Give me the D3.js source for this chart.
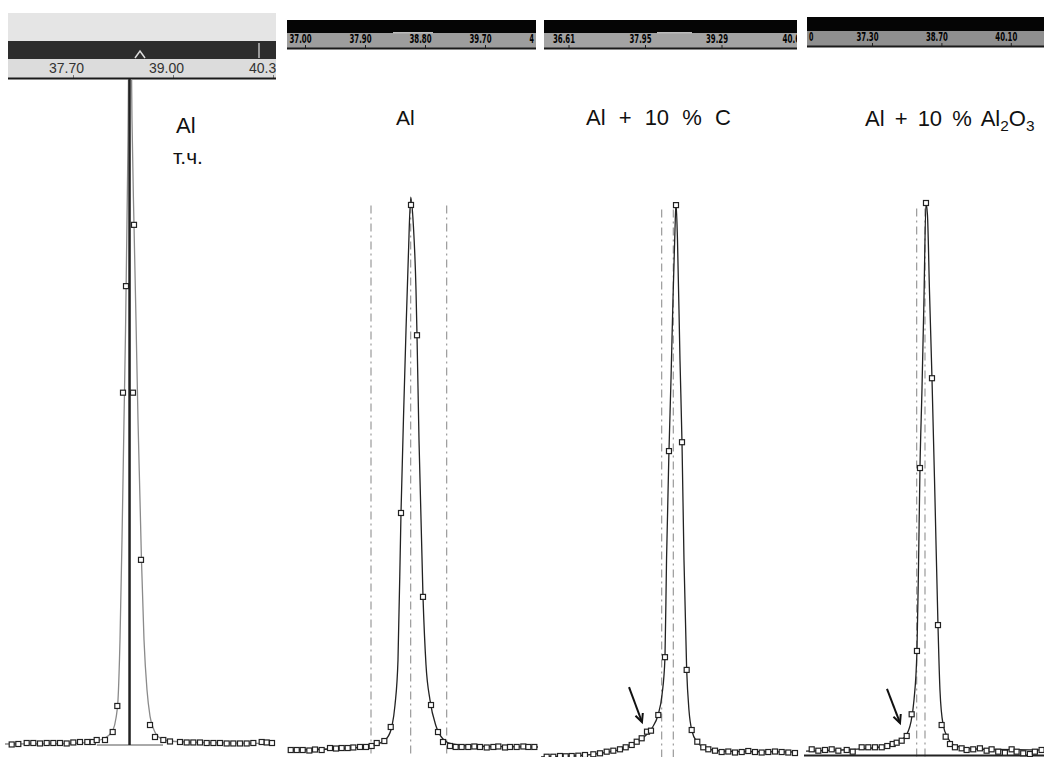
<!DOCTYPE html>
<html>
<head>
<meta charset="utf-8">
<script src="https://cdn.jsdelivr.net/npm/d3@7"></script>
<style>
body { margin: 0; background: #fff; }
svg { display: block; }
</style>
</head>
<body>
<svg id="chart" width="1044" height="757"></svg>
<script>
// XRD scans of the Al (111) peak, four screenshots side by side
// 2theta in degrees, intensity in % of the peak top

// panel 1: Al, т.ч.
var p1Ticks = [37.70, 39.00, 40.30];
var p1Labels = ["37.70", "39.00", "40.3"];   // last one is cut by the screenshot edge
var p1Tth = [36.903, 36.989, 37.098, 37.184, 37.271, 37.358, 37.444, 37.531, 37.618, 37.704,
  37.791, 37.886, 37.956, 38.008, 38.116, 38.216, 38.276, 38.350, 38.389, 38.480, 38.493, 38.584,
  38.701, 38.766, 38.874, 38.961, 39.091, 39.178, 39.264, 39.351, 39.438, 39.525, 39.611, 39.698,
  39.784, 39.871, 39.958, 40.044, 40.153, 40.218, 40.287];
var p1Int = [0.08, 0.15, 0.30, 0.30, 0.23, 0.30, 0.30, 0.30, 0.23, 0.38,
  0.45, 0.45, 0.45, 0.75, 0.75, 1.95, 5.86, 52.9, 68.9, 52.9, 78.1, 27.8,
  3.0, 1.2, 0.75, 0.53, 0.45, 0.38, 0.38, 0.38, 0.30, 0.30, 0.30, 0.23,
  0.23, 0.23, 0.23, 0.30, 0.45, 0.38, 0.30];
var p1FitTth = [36.816, 37.531, 37.921, 38.051, 38.155, 38.220, 38.259, 38.285, 38.311, 38.337,
  38.363, 38.383, 38.402, 38.415, 38.434, 38.448, 38.467, 38.493, 38.519, 38.545, 38.571, 38.590,
  38.623, 38.662, 38.701, 38.753, 38.831, 38.961, 39.351, 40.326];
var p1FitInt = [0.15, 0.2, 0.45, 0.75, 1.35, 2.25, 4.05, 6.76, 15.8, 30.8,
  48.8, 62.3, 78.8, 90.8, 115, 115, 93.8, 78.1, 63.8, 48.8, 36.8, 27.8,
  15.8, 8.26, 4.35, 2.25, 1.05, 0.6, 0.38, 0.23];
var p1PeakPos = 38.435;
var p1Background = [38.01, 38.87];

// panel 2: Al
var p2Ticks = [37.00, 37.90, 38.80, 39.70, 40.60];
var p2Labels = ["37.00", "37.90", "38.80", "39.70", "4"];
var p2Tth = [36.786, 36.876, 36.966, 37.065, 37.150, 37.250, 37.375, 37.465, 37.550, 37.640,
  37.725, 37.825, 37.915, 38.000, 38.076, 38.190, 38.286, 38.440, 38.590, 38.680, 38.770, 38.890,
  38.995, 39.070, 39.175, 39.260, 39.350, 39.449, 39.540, 39.625, 39.726, 39.825, 39.900, 40.000,
  40.075, 40.175, 40.275, 40.350, 40.440];
var p2Int = [0.36, 0.36, 0.36, 0.27, 0.45, 0.36, 0.72, 0.63, 0.72, 0.72,
  0.82, 0.91, 0.91, 1.09, 1.63, 1.99, 4.53, 43.3, 99.1, 75.5, 28.1, 8.51,
  3.62, 1.81, 1.09, 0.91, 0.91, 0.91, 1.0, 0.91, 0.82, 0.91, 1.0, 0.82,
  0.91, 0.91, 1.0, 0.91, 0.91];
var p2FitTth = [36.745, 37.525, 37.900, 38.095, 38.230, 38.305, 38.350, 38.395, 38.440, 38.485,
  38.515, 38.550, 38.586, 38.625, 38.665, 38.680, 38.710, 38.770, 38.815, 38.875, 38.965, 39.070,
  39.205, 39.475, 40.495];
var p2FitInt = [0.36, 0.63, 0.91, 1.45, 2.54, 4.71, 8.51, 16.7, 43.3, 63.8,
  76.4, 89.7, 100.5, 95.5, 83.7, 75.5, 56.5, 28.1, 15.8, 9.4, 4.71, 2.36,
  1.45, 1.09, 0.91];
var p2Guides = [37.99, 38.585, 39.125];

// panel 3: Al + 10 % C
var p3Ticks = [36.61, 37.95, 39.29, 40.63];
var p3Labels = ["36.61", "37.95", "39.29", "40.6"];
var p3Tth = [36.228, 36.344, 36.461, 36.561, 36.666, 36.782, 36.899, 37.045, 37.162, 37.279,
  37.395, 37.512, 37.612, 37.717, 37.805, 37.892, 37.985, 38.055, 38.183, 38.300, 38.370, 38.493,
  38.598, 38.680, 38.768, 38.866, 38.971, 39.059, 39.176, 39.293, 39.409, 39.526, 39.644, 39.759,
  39.876, 39.994, 40.109, 40.227, 40.344, 40.460, 40.577];
var p3Int = [0.23, 0.23, 0.36, 0.31, 0.36, 0.42, 0.54, 0.67, 0.85, 1.14,
  1.32, 1.57, 1.93, 2.35, 2.94, 3.56, 4.75, 4.93, 7.76, 18.2, 55.4, 99.8,
  57.0, 15.9, 5.05, 2.94, 1.93, 1.57, 1.32, 1.08, 1.17, 0.99, 1.08, 1.26,
  1.08, 0.99, 1.08, 1.17, 1.08, 0.99, 0.90];
var p3FitTth = [36.129, 36.812, 37.162, 37.512, 37.775, 37.950, 38.073, 38.178, 38.248, 38.300,
  38.327, 38.370, 38.405, 38.440, 38.475, 38.493, 38.519, 38.563, 38.598, 38.633, 38.680, 38.720,
  38.773, 38.861, 39.001, 39.264, 40.630];
var p3FitInt = [0.18, 0.45, 0.85, 1.57, 2.71, 3.97, 5.42, 7.76, 11.4, 18.2,
  35.7, 55.4, 68.2, 82.7, 95.3, 100.2, 93.5, 71.8, 57.0, 35.7, 15.9, 8.66,
  4.87, 2.89, 1.81, 1.26, 1.08];
var p3Guides = [38.242, 38.446];
var p3Arrow = [[37.670, 12.8], [37.897, 6.5]];

// panel 4: Al + 10 % Al2O3
var p4Ticks = [35.90, 37.30, 38.70, 40.10];
var p4Labels = ["0", "37.30", "38.70", "40.10"];   // first one: only its last digit peeks in
var p4Tth = [36.084, 36.217, 36.352, 36.487, 36.621, 36.790, 36.911, 37.092, 37.225, 37.360,
  37.496, 37.608, 37.717, 37.798, 37.899, 38.000, 38.100, 38.207, 38.268, 38.389, 38.510, 38.631,
  38.705, 38.786, 38.873, 38.973, 39.108, 39.209, 39.342, 39.477, 39.612, 39.713, 39.846, 39.981,
  40.117, 40.217, 40.350, 40.485, 40.586, 40.721];
var p4Int = [0.85, 0.60, 0.73, 0.85, 0.60, 0.73, 0.42, 1.22, 1.22, 1.22,
  1.22, 1.45, 1.81, 2.05, 2.41, 3.27, 7.21, 18.7, 51.9, 100, 68.2, 23.4,
  5.26, 3.14, 1.81, 1.22, 1.03, 0.73, 0.85, 1.03, 0.60, 0.85, 0.42, 0.24,
  0.85, 0.42, 0.13, 0.0, 0.42, 0.73];
var p4FitTth = [35.969, 36.856, 37.461, 37.764, 37.965, 38.086, 38.147, 38.207, 38.237, 38.268,
  38.308, 38.348, 38.389, 38.419, 38.459, 38.510, 38.571, 38.631, 38.671, 38.732, 38.832, 38.994,
  39.377, 40.768];
var p4FitInt = [0.54, 0.82, 1.27, 2.0, 3.09, 5.81, 9.8, 18.7, 33.4, 51.9,
  66.1, 82.4, 100, 97.8, 84.2, 68.2, 46.1, 23.4, 11.6, 5.44, 2.9, 1.45,
  0.91, 0.73];
var p4Guides = [38.201, 38.369];
var p4Arrow = [[37.602, 11.8], [37.865, 5.63]];

// layout of each screenshot (pixels); xDom/xr pins two tick values to pixels
var panels = [
  { ticks: p1Ticks, labels: p1Labels, xDom: [p1Ticks[0], p1Ticks[1]], tth: p1Tth, inten: p1Int,
    fitTth: p1FitTth, fitInt: p1FitInt, guides: [], arrow: null, peak: p1PeakPos, bg: p1Background,
    left: 8, right: 276, plotLeft: 0, plotRight: 279, xr: [73, 173], yr: [745, 79],
    bands: [[13, 28, "#e5e5e5"], [41, 18, "#2d2d2d"], [59, 19, "#dcdcdc"]],
    axisY: 78, light: true, fitColor: "#8a8a8a",
    title: [{ x: 176, y: 133, size: 22, parts: [["Al"]] }, { x: 173, y: 164, size: 21, parts: [["т.ч."]] }] },
  { ticks: p2Ticks, labels: p2Labels, xDom: [p2Ticks[0], p2Ticks[1]], tth: p2Tth, inten: p2Int,
    fitTth: p2FitTth, fitInt: p2FitInt, guides: p2Guides, arrow: null,
    left: 287, right: 536, plotLeft: 284, plotRight: 540, xr: [305, 365], yr: [752, 200],
    bands: [[20, 13, "#050505"], [33, 15, "#9d9d9d"]],
    axisY: 48, light: false, fitColor: "#222",
    title: [{ x: 396, y: 125, size: 21, parts: [["Al"]] }] },
  { ticks: p3Ticks, labels: p3Labels, xDom: [p3Ticks[1], p3Ticks[2]], tth: p3Tth, inten: p3Int,
    fitTth: p3FitTth, fitInt: p3FitInt, guides: p3Guides, arrow: p3Arrow,
    left: 544, right: 797, plotLeft: 541, plotRight: 802, xr: [645, 721.5], yr: [758, 204],
    bands: [[20, 13, "#050505"], [33, 15, "#a3a3a3"]],
    axisY: 48, light: false, fitColor: "#222",
    title: [{ x: 586, y: 125, size: 22, ws: 7, parts: [["Al + 10 % C"]] }] },
  { ticks: p4Ticks, labels: p4Labels, xDom: [p4Ticks[1], p4Ticks[2]], tth: p4Tth, inten: p4Int,
    fitTth: p4FitTth, fitInt: p4FitInt, guides: p4Guides, arrow: p4Arrow, bottomLine: true,
    left: 807, right: 1044, plotLeft: 804, plotRight: 1044, xr: [872, 941.4], yr: [754, 203],
    bands: [[17, 14, "#050505"], [31, 15, "#8f8f8f"]],
    axisY: 46, light: false, fitColor: "#222",
    title: [{ x: 865, y: 126, size: 22, ws: 4, parts: [["Al + 10 % Al"], ["2", "sub"], ["O"], ["3", "sub"]] }] }
];

var svg = d3.select("#chart");
var defs = svg.append("defs");

panels.forEach(function(p, k) {
  var x = d3.scaleLinear().domain(p.xDom).range(p.xr);
  var y = d3.scaleLinear().domain([0, 100]).range(p.yr);
  var g = svg.append("g").attr("class", "panel" + (k + 1));

  // clip for the plot area and the header strip
  defs.append("clipPath").attr("id", "plot" + k)
    .append("rect").attr("x", p.plotLeft).attr("y", p.axisY + 1)
    .attr("width", p.plotRight - p.plotLeft).attr("height", 757 - p.axisY);
  defs.append("clipPath").attr("id", "head" + k)
    .append("rect").attr("x", p.left).attr("y", 0)
    .attr("width", p.right - p.left).attr("height", p.axisY + 2);

  // header bands
  var head = g.append("g").attr("clip-path", "url(#head" + k + ")");
  p.bands.forEach(function(b) {
    head.append("rect").attr("x", p.left).attr("y", b[0])
      .attr("width", p.right - p.left).attr("height", b[1]).attr("fill", b[2]);
  });

  var axis = d3.axisTop(x).tickValues(p.ticks)
    .tickFormat(function(d, i) { return p.labels[i]; })
    .tickSize(3).tickPadding(2);
  var ax = head.append("g").attr("transform", "translate(0," + p.axisY + ")").call(axis);
  ax.select(".domain").remove();
  ax.selectAll(".tick line").attr("stroke", p.light ? "#777" : "#222");
  var txt = ax.selectAll("text");
  if (p.light) {
    // full label is 37 px wide, centred 6 px left of its tick
    txt.attr("text-anchor", "start").attr("x", -24.5).attr("fill", "#333")
      .style("font-family", "'Liberation Sans', Arial, sans-serif").style("font-size", "14px");
  } else {
    // full label is 22 px wide, centred 5 px left of its tick
    txt.attr("fill", "#000")
      .style("font-family", "'Liberation Sans Narrow', 'DejaVu Sans Condensed', sans-serif")
      .style("font-size", "12.5px").style("font-weight", "bold")
      .attr("textLength", function(d, i) { return 22 * p.labels[i].length / 5; })
      .attr("lengthAdjust", "spacingAndGlyphs")
      .attr("x", function(d, i) { return i === 0 && p.labels[i].length < 5 ? 6 : -16; })
      .attr("text-anchor", "start");
  }
  head.append("line").attr("x1", p.left).attr("x2", p.right)
    .attr("y1", p.axisY + 0.5).attr("y2", p.axisY + 0.5)
    .attr("stroke", "#1a1a1a").attr("stroke-width", 2);

  // plot area
  var plot = g.append("g").attr("clip-path", "url(#plot" + k + ")");

  plot.selectAll(".guide").data(p.guides).enter().append("line")
    .attr("class", "guide")
    .attr("x1", function(d) { return x(d); }).attr("x2", function(d) { return x(d); })
    .attr("y1", y(99)).attr("y2", 757)
    .attr("stroke", "#9a9a9a").attr("stroke-width", 1.2)
    .attr("stroke-dasharray", "8,4,2,4");

  if (p.bg) {
    plot.append("line").attr("x1", x(p.bg[0])).attr("x2", x(p.bg[1]))
      .attr("y1", y(0)).attr("y2", y(0)).attr("stroke", "#555").attr("stroke-width", 1);
  }
  if (p.bottomLine) {
    plot.append("line").attr("x1", p.plotLeft).attr("x2", p.plotRight)
      .attr("y1", y(0) + 1.5).attr("y2", y(0) + 1.5).attr("stroke", "#222").attr("stroke-width", 2);
  }

  var fit = p.fitTth.map(function(t, i) { return [t, p.fitInt[i]]; });
  var line = d3.line().x(function(d) { return x(d[0]); }).y(function(d) { return y(d[1]); })
    .curve(d3.curveMonotoneX);
  plot.append("path").datum(fit).attr("d", line)
    .attr("fill", "none").attr("stroke", p.fitColor).attr("stroke-width", 1.3);

  if (p.peak) {
    plot.append("line").attr("x1", x(p.peak)).attr("x2", x(p.peak))
      .attr("y1", y(0)).attr("y2", p.axisY)
      .attr("stroke", "#222").attr("stroke-width", 2.5);
  }

  var pts = p.tth.map(function(t, i) { return [t, p.inten[i]]; });
  plot.selectAll(".pt").data(pts).enter().append("rect")
    .attr("class", "pt")
    .attr("x", function(d) { return x(d[0]) - 2.5; })
    .attr("y", function(d) { return y(d[1]) - 2.5; })
    .attr("width", 5).attr("height", 5)
    .attr("fill", "#fff").attr("stroke", "#222").attr("stroke-width", 1.2);

  if (p.arrow) {
    var a0 = [x(p.arrow[0][0]), y(p.arrow[0][1])], a1 = [x(p.arrow[1][0]), y(p.arrow[1][1])];
    var ang = Math.atan2(a1[1] - a0[1], a1[0] - a0[0]);
    var hl = 9, hw = 0.45;
    plot.append("line").attr("x1", a0[0]).attr("y1", a0[1]).attr("x2", a1[0]).attr("y2", a1[1])
      .attr("stroke", "#111").attr("stroke-width", 2);
    plot.append("path")
      .attr("d", "M" + (a1[0] - hl * Math.cos(ang - hw)) + "," + (a1[1] - hl * Math.sin(ang - hw)) +
        "L" + a1[0] + "," + a1[1] +
        "L" + (a1[0] - hl * Math.cos(ang + hw)) + "," + (a1[1] - hl * Math.sin(ang + hw)))
      .attr("fill", "none").attr("stroke", "#111").attr("stroke-width", 2);
  }

  // titles
  p.title.forEach(function(t) {
    var tt = g.append("text").attr("x", t.x).attr("y", t.y)
      .style("font-family", "'Liberation Sans', Arial, sans-serif")
      .style("font-size", t.size + "px").attr("fill", "#111");
    if (t.ws) tt.attr("word-spacing", t.ws);
    t.parts.forEach(function(part) {
      var s = tt.append("tspan").text(part[0]);
      if (part[1] === "sub") s.attr("baseline-shift", "-30%").style("font-size", "70%");
    });
  });
});

// small header details
svg.append("path").attr("d", "M135,58 L140,51 L145,58").attr("fill", "none")
  .attr("stroke", "#ddd").attr("stroke-width", 1.5);
svg.append("rect").attr("x", 258).attr("y", 43).attr("width", 2).attr("height", 15).attr("fill", "#999");
svg.append("rect").attr("x", 393).attr("y", 32).attr("width", 40).attr("height", 1.5).attr("fill", "#bbb");
svg.append("rect").attr("x", 657).attr("y", 32).attr("width", 35).attr("height", 1.5).attr("fill", "#bbb");
</script>
</body>
</html>
